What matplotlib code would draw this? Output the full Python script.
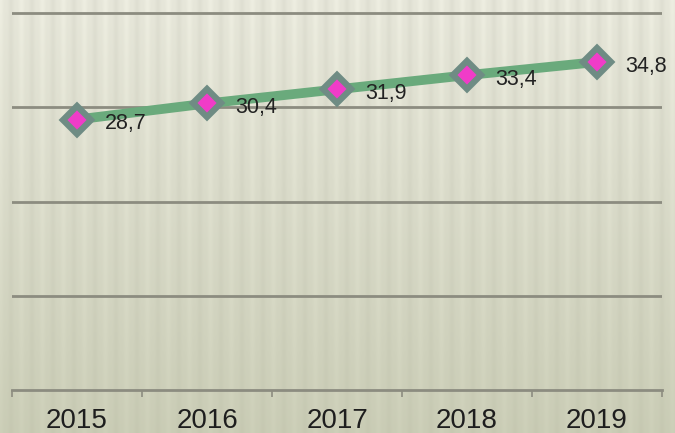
import numpy as np
import matplotlib.pyplot as plt

years = ["2015", "2016", "2017", "2018", "2019"]
values = [28.7, 30.4, 31.9, 33.4, 34.8]
labels = ["28,7", "30,4", "31,9", "33,4", "34,8"]

W, H = 675, 433
fig = plt.figure(figsize=(W / 100, H / 100), dpi=100)

# striped, slightly shaded background
bg = fig.add_axes([0, 0, 1, 1], zorder=0)
xx = np.arange(W)
yy = np.arange(H)
phase = (xx % 21) / 21.0
stripe = 0.028 * np.cos(2 * np.pi * phase) ** 3
top = np.array([0.905, 0.905, 0.855])
bot = np.array([0.79, 0.80, 0.71])
t = (yy / (H - 1))[:, None, None]
amp = 1.0 - 0.5 * t
img = top * (1 - t) + bot * t
img = img + (stripe[None, :, None] * amp)
bg.imshow(np.clip(img, 0, 1), aspect="auto", extent=[0, W, H, 0])
bg.axis("off")

# main axes: x from 12px to 662px, y=0 at 390px and 40 at 13px
px_per_unit = (390 - 13) / 40
ytop = 390 / px_per_unit
ax = fig.add_axes([12 / W, (H - 390) / H, 650 / W, 390 / H], zorder=1)
ax.patch.set_alpha(0)

x = np.arange(len(years))
ax.set_xlim(-0.5, len(years) - 0.5)
ax.set_ylim(0, ytop)

for g in [10, 20, 30, 40]:
    ax.axhline(g, color="#8c8c80", lw=2, zorder=1)

ax.plot(x, values, color="#6aaa7c", lw=7, solid_capstyle="round", zorder=2)
ax.plot(x, values, ls="none", marker="D", ms=14, mfc="#f03cc8",
        mec="#6f8c84", mew=4.5, zorder=3)

for xi, v, lab in zip(x, values, labels):
    ax.annotate(lab, (xi, v), xytext=(20, -3), textcoords="offset points",
                ha="left", va="center", fontsize=15.5,
                family="Liberation Sans", color="#222222", zorder=4)

for s in ["left", "right", "top"]:
    ax.spines[s].set_visible(False)
ax.spines["bottom"].set_color("#8c8c80")
ax.spines["bottom"].set_linewidth(2)
ax.set_yticks([])
ax.set_xticks(x)
ax.set_xticklabels(years, fontsize=20, family="Liberation Sans", color="#1e1e1e")
ax.set_xticks(np.arange(len(years) + 1) - 0.5, minor=True)
ax.tick_params(axis="x", which="major", length=0, pad=13)
ax.tick_params(axis="x", which="minor", length=5, width=1.2, color="#8c8c80")

fig.savefig("out.png", dpi=100)
